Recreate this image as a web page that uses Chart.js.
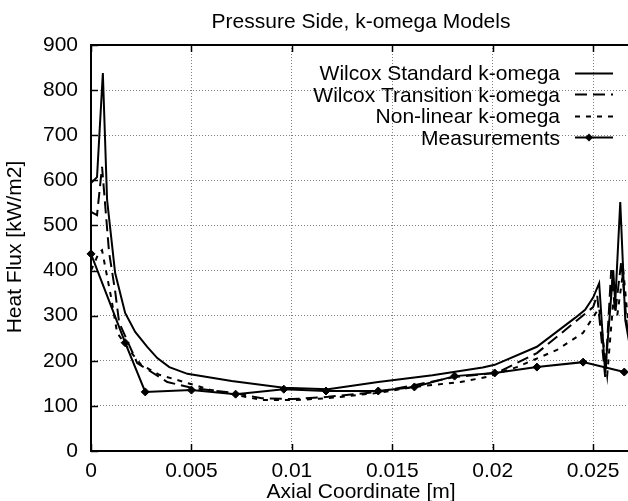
<!DOCTYPE html>
<html>
<head>
<meta charset="utf-8">
<script src="https://cdn.jsdelivr.net/npm/chart.js@4.4.0/dist/chart.umd.min.js"></script>
<style>
  body { margin: 0; background: #fff; }
  #wrap { width: 628px; height: 501px; overflow: hidden; }
</style>
</head>
<body>
<div id="wrap"><canvas id="flux-chart" width="722" height="501"></canvas></div>
<script>
// values (x in m, heat flux in kW/m2)
var measX = [0, 0.0017, 0.0027, 0.0050, 0.0072, 0.0096, 0.0117, 0.0143, 0.0161, 0.0181, 0.0201, 0.0222, 0.0245, 0.02655];
var measY = [437, 240, 131, 135, 126, 137, 133, 133, 142, 166, 173, 186, 197, 175];

var stdX = [0, 0.0003, 0.00059, 0.0008, 0.0012, 0.0017, 0.0022, 0.0028, 0.0033, 0.0039, 0.0048, 0.0070, 0.0096, 0.0118, 0.0143, 0.0170, 0.0195, 0.0201, 0.0222, 0.0241, 0.0246, 0.0250, 0.0253, 0.0256, 0.0260, 0.0261, 0.02635, 0.0266, 0.0268];
var stdY = [594, 607, 838, 557, 395, 306, 264, 231, 206, 186, 171, 155, 140, 137, 153, 168, 185, 191, 231, 295, 313, 340, 372, 173, 401, 328, 552, 290, 240];

var transX = [0, 0.0003, 0.00055, 0.0009, 0.0012, 0.0014, 0.0023, 0.0038, 0.0050, 0.0072, 0.0085, 0.0100, 0.0118, 0.0143, 0.0161, 0.0181, 0.0197, 0.0202, 0.0222, 0.0241, 0.0250, 0.0252, 0.0256, 0.0259, 0.0261, 0.0264, 0.0267];
var transY = [530, 523, 630, 440, 355, 285, 195, 153, 140, 128, 117, 115, 120, 131, 146, 164, 171, 173, 217, 286, 319, 346, 164, 401, 306, 420, 270];

var nlX = [0, 0.0004, 0.00055, 0.0010, 0.0013, 0.0019, 0.0025, 0.0034, 0.0060, 0.0085, 0.0102, 0.0118, 0.0143, 0.0161, 0.0184, 0.0197, 0.0212, 0.0232, 0.0245, 0.0250, 0.0253, 0.0257, 0.0260, 0.0262, 0.0265, 0.0268];
var nlY = [400, 440, 445, 341, 262, 224, 191, 169, 135, 113, 113, 117, 129, 142, 153, 164, 186, 224, 262, 297, 317, 168, 330, 300, 400, 260];

var xTicks = [0, 0.005, 0.01, 0.015, 0.02, 0.025, 0.03];
var xTickLabels = ['0', '0.005', '0.01', '0.015', '0.02', '0.025', '0.03'];
var yTicks = [0, 100, 200, 300, 400, 500, 600, 700, 800, 900];
var yTickLabels = ['0', '100', '200', '300', '400', '500', '600', '700', '800', '900'];

var seriesNames = ['Wilcox Standard k-omega', 'Wilcox Transition k-omega', 'Non-linear k-omega', 'Measurements'];

function pts(xs, ys) {
  var out = [];
  for (var i = 0; i < xs.length; i++) out.push({ x: xs[i], y: ys[i] });
  return out;
}

var FONT = '21px "Liberation Sans", Arial, sans-serif';

var framePlugin = {
  id: 'frame',
  afterDraw: function(chart) {
    var ctx = chart.ctx, a = chart.chartArea;
    var xs = chart.scales.x, ys = chart.scales.y;
    ctx.save();
    ctx.strokeStyle = '#000';
    ctx.lineWidth = 1.5;
    ctx.setLineDash([]);
    ctx.beginPath();
    xTicks.forEach(function(v) {
      var px = Math.round(xs.getPixelForValue(v)) + 0.5;
      ctx.moveTo(px, a.bottom); ctx.lineTo(px, a.bottom - 7);
      ctx.moveTo(px, a.top); ctx.lineTo(px, a.top + 7);
    });
    yTicks.forEach(function(v) {
      var py = Math.round(ys.getPixelForValue(v)) + 0.5;
      ctx.moveTo(a.left, py); ctx.lineTo(a.left + 7, py);
      ctx.moveTo(a.right, py); ctx.lineTo(a.right - 7, py);
    });
    ctx.stroke();
    ctx.lineWidth = 2;
    ctx.strokeRect(a.left, a.top, a.right - a.left, a.bottom - a.top);

    // titles
    ctx.fillStyle = '#000';
    ctx.font = FONT;
    ctx.textAlign = 'center';
    ctx.textBaseline = 'alphabetic';
    ctx.fillText('Pressure Side, k-omega Models', 361, 28);
    ctx.fillText('Axial Coordinate [m]', 361, 498);
    ctx.save();
    ctx.translate(21, 247);
    ctx.rotate(-Math.PI / 2);
    ctx.fillText('Heat Flux [kW/m2]', 0, 0);
    ctx.restore();

    // key, text right aligned with the line sample on its right
    var base = [80, 101.5, 123, 144.5];
    chart.data.datasets.forEach(function(ds, i) {
      var y = base[i];
      ctx.textAlign = 'right';
      ctx.fillText(ds.label, 560, y);
      var ly = Math.round(y - 7.5) + 0.5;
      ctx.lineWidth = 2;
      ctx.setLineDash(ds.borderDash || []);
      ctx.beginPath();
      ctx.moveTo(575, ly); ctx.lineTo(613, ly);
      ctx.stroke();
      ctx.setLineDash([]);
      if (ds.pointRadius > 0) {
        ctx.beginPath();
        ctx.moveTo(589, ly - 4); ctx.lineTo(593, ly); ctx.lineTo(589, ly + 4); ctx.lineTo(585, ly);
        ctx.closePath();
        ctx.fill();
      }
    });
    ctx.restore();
  }
};

new Chart(document.getElementById('flux-chart'), {
  type: 'scatter',
  data: {
    datasets: [
      { label: seriesNames[0], data: pts(stdX, stdY), showLine: true, borderColor: '#000', borderWidth: 2, pointRadius: 0, tension: 0 },
      { label: seriesNames[1], data: pts(transX, transY), showLine: true, borderColor: '#000', borderWidth: 2, borderDash: [12, 6], pointRadius: 0, tension: 0 },
      { label: seriesNames[2], data: pts(nlX, nlY), showLine: true, borderColor: '#000', borderWidth: 2, borderDash: [5, 6], pointRadius: 0, tension: 0 },
      { label: seriesNames[3], data: pts(measX, measY), showLine: true, borderColor: '#000', backgroundColor: '#000', borderWidth: 2,
        pointStyle: 'rectRot', pointRadius: 4, pointBorderWidth: 1, tension: 0, clip: 6 }
    ]
  },
  options: {
    responsive: false,
    animation: false,
    events: [],
    layout: { padding: { left: 0, top: 45, right: 23, bottom: 0 } },
    plugins: {
      legend: { display: false },
      title: { display: false },
      tooltip: { enabled: false }
    },
    scales: {
      x: {
        type: 'linear',
        min: 0, max: 0.03,
        afterFit: function(s) { s.height = 50; },
        afterBuildTicks: function(s) { s.ticks = xTicks.map(function(v) { return { value: v }; }); },
        ticks: {
          color: '#000', font: { family: '"Liberation Sans", Arial, sans-serif', size: 21 },
          padding: 8, maxRotation: 0, autoSkip: false,
          callback: function(v, i) { return xTickLabels[i]; }
        },
        grid: { color: '#808080', lineWidth: 1, drawTicks: false },
        border: { display: false, dash: [1, 2] }
      },
      y: {
        min: 0, max: 900,
        afterFit: function(s) { s.width = 91; },
        afterBuildTicks: function(s) { s.ticks = yTicks.map(function(v) { return { value: v }; }); },
        ticks: {
          color: '#000', font: { family: '"Liberation Sans", Arial, sans-serif', size: 21 },
          padding: 13, autoSkip: false,
          callback: function(v, i) { return yTickLabels[i]; }
        },
        grid: { color: '#808080', lineWidth: 1, drawTicks: false },
        border: { display: false, dash: [1, 2] }
      }
    }
  },
  plugins: [framePlugin]
});
</script>
</body>
</html>
